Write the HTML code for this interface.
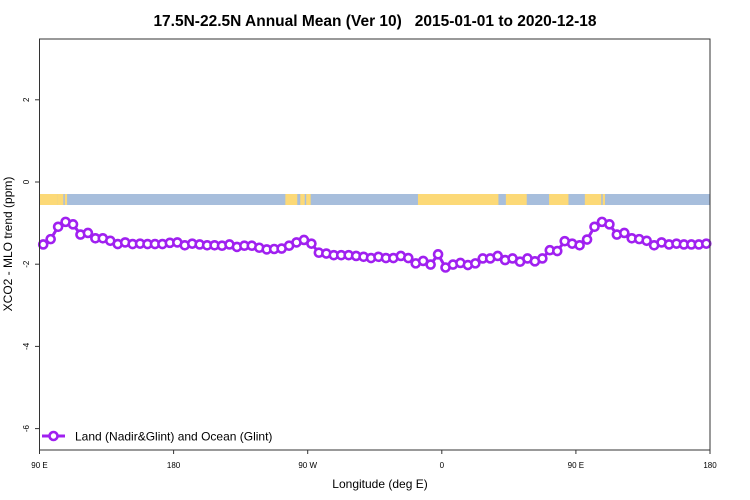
<!DOCTYPE html>
<html><head><meta charset="utf-8"><style>
body{margin:0;background:#fff;}
svg{display:block;font-family:"Liberation Sans",sans-serif;}
</style></head><body>
<svg id="chart" width="750" height="500" viewBox="0 0 750 500">
<text x="375" y="26" text-anchor="middle" font-size="15.5" font-weight="bold" style="white-space:pre">17.5N-22.5N Annual Mean (Ver 10)   2015-01-01 to 2020-12-18</text>
<g id="map"></g>
<g id="axes"></g>
<g id="series"></g>
<rect x="39.5" y="39" width="670.5" height="411" fill="none" stroke="#333" stroke-width="1"/>
<text x="380" y="488" text-anchor="middle" font-size="12">Longitude (deg E)</text>
<text transform="translate(12,244) rotate(-90)" text-anchor="middle" font-size="12">XCO2 - MLO trend (ppm)</text>
<g>
<line x1="42" y1="436" x2="65" y2="436" stroke="#a020f0" stroke-width="3"/>
<circle cx="53.5" cy="436" r="4" fill="#fff" stroke="#a020f0" stroke-width="2.6"/>
<text x="75" y="440.5" font-size="12">Land (Nadir&amp;Glint) and Ocean (Glint)</text>
</g>
</svg>
<script>
const longitudes = [];
for (let i = 0; i < 90; i++) longitudes.push(92.5 + 5 * i);
const values = [-1.52,-1.39,-1.09,-0.97,-1.03,-1.28,-1.24,-1.37,-1.37,-1.43,-1.51,-1.47,-1.51,-1.50,-1.51,-1.51,-1.51,-1.48,-1.47,-1.54,-1.50,-1.52,-1.54,-1.54,-1.55,-1.52,-1.58,-1.55,-1.55,-1.60,-1.64,-1.63,-1.62,-1.55,-1.47,-1.41,-1.50,-1.72,-1.74,-1.78,-1.78,-1.78,-1.80,-1.82,
-1.85,-1.82,-1.85,-1.85,-1.80,-1.85,-1.98,-1.92,-2.01,-1.76,-2.08,-2.01,-1.97,-2.02,-1.98,-1.86,-1.86,-1.80,-1.90,-1.86,-1.94,-1.86,-1.93,-1.86,-1.66,-1.68,-1.44,-1.50,-1.54,-1.40,-1.09,-0.97,-1.03,-1.28,-1.24,-1.37,-1.39,-1.43,-1.54,-1.47,-1.52,-1.50,-1.52,-1.52,-1.52,-1.50];
const xTicks = [90,180,270,360,450,540];
const xTickLabels = ["90 E","180","90 W","0","90 E","180"];
const yTicks = [2,0,-2,-4,-6];
const landSpans = [[90,102],[102,106],[107,108.5],[255,263],[265,268],[269,272],[344,398],[403,417],[432,445],[456,467],[468,469.5]];
const NS='http://www.w3.org/2000/svg';
const xS = v => 39.5 + (v - 90) * (670.5 / 450);
const yS = v => 182 - 41.1 * v;
function mk(t, a, p){const e=document.createElementNS(NS,t);for(const k in a)e.setAttribute(k,a[k]);p.appendChild(e);return e;}
const map=document.getElementById('map'), axes=document.getElementById('axes'), ser=document.getElementById('series');
mk('rect',{x:39.5,y:194,width:670.5,height:11,fill:'#a7bedc'},map);
landSpans.forEach(s=>{
  const r=mk('rect',{x:xS(s[0]),y:194,width:xS(s[1])-xS(s[0]),height:11,fill:'#fcd977'},map);
  
  
});
xTicks.forEach((t,i)=>{
  const g=mk('g',{},axes);
  
  
  mk('line',{x1:xS(t),x2:xS(t),y1:450,y2:454,stroke:'#333'},g);
  const tx=mk('text',{x:xS(t),y:468,'text-anchor':'middle','font-size':8},g);
  tx.textContent=xTickLabels[i];
});
yTicks.forEach(t=>{
  const g=mk('g',{},axes);
  
  
  mk('line',{x1:35,x2:39.5,y1:yS(t),y2:yS(t),stroke:'#333'},g);
  const tx=mk('text',{x:0,y:0,'text-anchor':'middle','font-size':8,transform:`translate(29,${yS(t)}) rotate(-90)`},g);
  tx.textContent=String(t);
});
const pts=values.map((v,i)=>xS(longitudes[i])+','+yS(v)).join(' ');
const pl=mk('polyline',{points:pts,fill:'none',stroke:'#a020f0','stroke-width':3},ser);


values.forEach((v,i)=>{
  const c=mk('circle',{cx:xS(longitudes[i]),cy:yS(v),r:4,fill:'#fff',stroke:'#a020f0','stroke-width':2.6},ser);
  
  
});
</script>
</body></html>
